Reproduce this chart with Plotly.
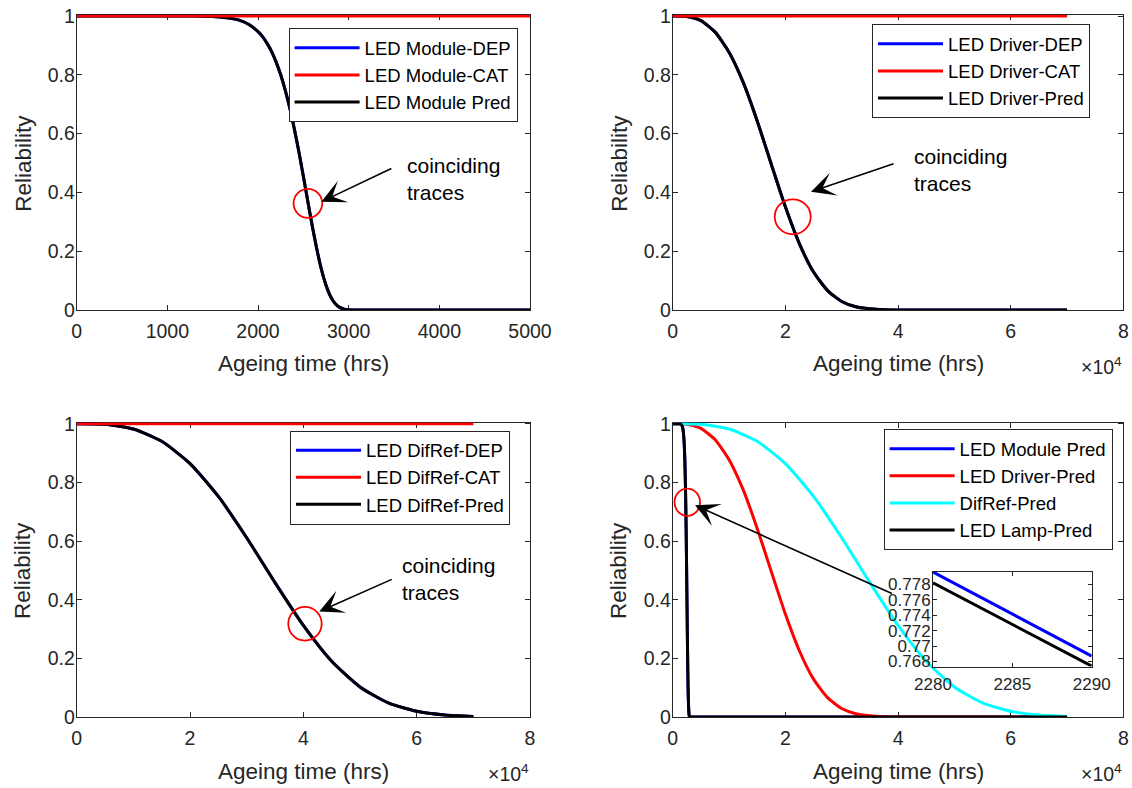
import plotly.graph_objects as go

# the page body margin is removed (see post_script), so the figure fills the window
OFF = 0
W, H = 1132 - OFF, 788 - OFF

# ---------------- data ----------------
# LED module (hours -> reliability)
module_hours = [0, 1000, 1200, 1400, 1500, 1600, 1700, 1800, 1900, 2000,
                2050, 2100, 2150, 2200, 2250, 2300, 2350, 2400, 2450, 2500,
                2550, 2600, 2650, 2700, 2750, 2800, 2850, 2900, 2950, 3000,
                3100, 3500, 4000, 5000]
module_pred = [1.0, 1.0, 0.9999, 0.9993, 0.998, 0.996, 0.992, 0.985, 0.971, 0.947,
               0.930, 0.907, 0.879, 0.843, 0.800, 0.748, 0.687, 0.617, 0.539, 0.455,
               0.368, 0.283, 0.205, 0.137, 0.084, 0.046, 0.022, 0.009, 0.003, 0.001,
               0.0, 0.0, 0.0, 0.0]
module_dep = list(module_pred)          # coinciding trace
module_cat_hours = [0, 5000]
module_cat = [1.0, 1.0]

# LED driver
driver_hours = [0, 2500, 5000, 7500, 10000, 12500, 15000, 17500, 20000, 22500,
                25000, 27500, 30000, 32500, 35000, 37500, 40000, 45000, 50000,
                60000, 70000]
driver_pred = [1.0, 0.998, 0.984, 0.946, 0.877, 0.775, 0.643, 0.496, 0.351, 0.225,
               0.129, 0.066, 0.029, 0.011, 0.004, 0.001, 0.0003, 0.0, 0.0,
               0.0, 0.0]
driver_dep = list(driver_pred)
long_cat_hours = [0, 70000]
driver_cat = [1.0, 1.0]

# LED diffuser / reflector
difref_hours = [0, 5000, 10000, 15000, 20000, 25000, 30000, 35000, 40000,
                45000, 50000, 55000, 60000, 65000, 70000]
difref_pred = [1.0, 0.998, 0.982, 0.940, 0.864, 0.752, 0.611, 0.458, 0.312,
               0.190, 0.1025, 0.048, 0.0195, 0.0067, 0.0019]
difref_dep = list(difref_pred)
difref_cat = [1.0, 1.0]

# LED lamp (system) prediction
lamp_hours = [0, 1000, 1200, 1400, 1500, 1600, 1700, 1800, 1900, 2000,
              2050, 2100, 2150, 2200, 2250, 2300, 2350, 2400, 2450, 2500,
              2550, 2600, 2650, 2700, 2750, 2800, 2850, 2900, 2950, 3000,
              3100, 3500, 4000, 5000, 70000]
lamp_pred = [1.0, 1.0, 0.9998, 0.999, 0.997, 0.995, 0.990, 0.983, 0.969, 0.945,
             0.928, 0.905, 0.877, 0.841, 0.798, 0.746, 0.685, 0.616, 0.538, 0.454,
             0.367, 0.282, 0.204, 0.136, 0.083, 0.045, 0.021, 0.009, 0.003, 0.001,
             0.0, 0.0, 0.0, 0.0, 0.0]
module_tail_hours = [70000]
module_tail = [0.0]

# inset (zoom of module vs lamp)
inset_hours = [2280, 2290]
inset_module = [0.7796, 0.7687]
inset_lamp = [0.7782, 0.7674]

# tick labels
x1_ticks = [0, 1000, 2000, 3000, 4000, 5000]
x1_text = ["0", "1000", "2000", "3000", "4000", "5000"]
x_long_ticks = [0, 20000, 40000, 60000, 80000]
x_long_text = ["0", "2", "4", "6", "8"]
y_ticks = [0, 0.2, 0.4, 0.6, 0.8, 1]
y_text = ["0", "0.2", "0.4", "0.6", "0.8", "1"]
inset_xticks = [2280, 2285, 2290]
inset_xtext = ["2280", "2285", "2290"]
inset_yticks = [0.768, 0.770, 0.772, 0.774, 0.776, 0.778]
inset_ytext = ["0.768", "0.77", "0.772", "0.774", "0.776", "0.778"]

# ---------------- styling ----------------
FONT = "Liberation Sans, Arial, Helvetica, sans-serif"
AX = "#262626"
BLUE, RED, CYAN, BLACK = "#0000FF", "#FF0000", "#00FFFF", "#000000"
LW = 3
YTOP = 1.004          # a hair above 1 so the y = 1 lines stay visible

def px(x):
    return (x - OFF) / W

def py(y):
    return 1 - (y - OFF) / H

# panel boxes in window pixels (left, right, top(y=1), bottom(y=0))
P1 = (76.7, 530.0, 16.0, 310.0)
P2 = (672.7, 1123.4, 16.0, 310.0)
P3 = (76.7, 530.0, 423.7, 717.0)
P4 = (672.7, 1123.4, 423.7, 717.0)
PI = (933.0, 1091.7, 572.0, 666.5)

def xdom(b):
    return [px(b[0]), px(b[1])]

def ydom(b, top=1.0):
    hgt = b[3] - b[2]
    return [py(b[3]), py(b[3] - hgt * top)]

def axis(domain, rng, tickvals, ticktext, anchor, size=19.5, ticklen=5, standoff=0):
    return dict(domain=domain, range=rng, anchor=anchor, tickmode="array",
                tickvals=tickvals, ticktext=ticktext, showline=True,
                linecolor=AX, linewidth=1, mirror="ticks", ticks="inside",
                ticklen=ticklen, tickwidth=1, tickcolor=AX, showgrid=False,
                zeroline=False, automargin=False, layer="below traces",
                ticklabelstandoff=standoff, ticklabeloverflow="allow",
                tickfont=dict(family=FONT, size=size, color=AX), fixedrange=True)

fig = go.Figure()

def line(x, y, color, name, xa, ya, legend, rank, show=True):
    fig.add_trace(go.Scatter(x=x, y=y, mode="lines", name=name,
                             line=dict(color=color, width=LW, shape="spline", smoothing=0.6),
                             xaxis=xa, yaxis=ya, legend=legend, legendrank=rank,
                             showlegend=show))

# panel 1
line(module_hours, module_dep, BLUE, "LED Module-DEP", "x", "y", "legend", 1)
line(module_hours, module_pred, BLACK, "LED Module Pred", "x", "y", "legend", 3)
line(module_cat_hours, module_cat, RED, "LED Module-CAT", "x", "y", "legend", 2)
# panel 2
line(driver_hours, driver_dep, BLUE, "LED Driver-DEP", "x2", "y2", "legend2", 1)
line(driver_hours, driver_pred, BLACK, "LED Driver-Pred", "x2", "y2", "legend2", 3)
line(long_cat_hours, driver_cat, RED, "LED Driver-CAT", "x2", "y2", "legend2", 2)
# panel 3
line(difref_hours, difref_dep, BLUE, "LED DifRef-DEP", "x3", "y3", "legend3", 1)
line(difref_hours, difref_pred, BLACK, "LED DifRef-Pred", "x3", "y3", "legend3", 3)
line(long_cat_hours, difref_cat, RED, "LED DifRef-CAT", "x3", "y3", "legend3", 2)
# panel 4
line(module_hours + module_tail_hours, module_pred + module_tail, BLUE,
     "LED Module Pred", "x4", "y4", "legend4", 1)
line(driver_hours, driver_pred, RED, "LED Driver-Pred", "x4", "y4", "legend4", 2)
line(difref_hours, difref_pred, CYAN, "DifRef-Pred", "x4", "y4", "legend4", 3)
line(lamp_hours, lamp_pred, BLACK, "LED Lamp-Pred", "x4", "y4", "legend4", 4)
# inset
fig.add_trace(go.Scatter(x=inset_hours, y=inset_module, mode="lines", showlegend=False,
                         line=dict(color=BLUE, width=LW), xaxis="x5", yaxis="y5"))
fig.add_trace(go.Scatter(x=inset_hours, y=inset_lamp, mode="lines", showlegend=False,
                         line=dict(color=BLACK, width=LW), xaxis="x5", yaxis="y5"))

XS, YS = 4, -3        # tick-label standoffs
layout = dict(
    template="none",
    width=W, height=H, margin=dict(l=0, r=0, t=0, b=0, autoexpand=False),
    paper_bgcolor="white", plot_bgcolor="white", showlegend=True,
    font=dict(family=FONT, color=AX),
    xaxis=axis(xdom(P1), [0, 5000], x1_ticks, x1_text, "y", standoff=XS),
    yaxis=axis(ydom(P1, YTOP), [0, YTOP], y_ticks, y_text, "x", standoff=YS),
    xaxis2=axis(xdom(P2), [0, 80000], x_long_ticks, x_long_text, "y2", standoff=XS),
    yaxis2=axis(ydom(P2, YTOP), [0, YTOP], y_ticks, y_text, "x2", standoff=YS),
    xaxis3=axis(xdom(P3), [0, 80000], x_long_ticks, x_long_text, "y3", standoff=XS),
    yaxis3=axis(ydom(P3, YTOP), [0, YTOP], y_ticks, y_text, "x3", standoff=YS),
    xaxis4=axis(xdom(P4), [0, 80000], x_long_ticks, x_long_text, "y4", standoff=XS),
    yaxis4=axis(ydom(P4, YTOP), [0, YTOP], y_ticks, y_text, "x4", standoff=YS),
    xaxis5=axis(xdom(PI), [2280, 2290], inset_xticks, inset_xtext, "y5", size=17, ticklen=4,
                standoff=2),
    yaxis5=axis(ydom(PI), [0.76735, 0.7796], inset_yticks, inset_ytext, "x5", size=17,
                ticklen=4, standoff=-2),
)

def legend_box(x, y):
    return dict(x=px(x), y=py(y), xanchor="left", yanchor="top", bgcolor="white",
                bordercolor=AX, borderwidth=1, itemwidth=65,
                font=dict(family=FONT, size=18.5, color="#000000"),
                traceorder="normal")

layout["legend"] = legend_box(288.6, 28.3)
layout["legend2"] = legend_box(872.0, 24.3)
layout["legend3"] = legend_box(290.0, 430.7)
layout["legend4"] = legend_box(883.6, 429.3)
fig.update_layout(**layout)

# axis titles and scale factors
ann = []
for b in (P1, P2, P3, P4):
    cx = (b[0] + b[1]) / 2
    ann.append(dict(text="Ageing time (hrs)", x=px(cx), y=py(b[3] + 54), xref="paper", yref="paper",
                    xanchor="center", yanchor="middle", showarrow=False,
                    font=dict(family=FONT, size=22.5, color=AX)))
    ann.append(dict(text="Reliability", x=px(b[0] - 54), y=py((b[2] + b[3]) / 2), xref="paper",
                    yref="paper", xanchor="center", yanchor="middle", textangle=-90,
                    showarrow=False, font=dict(family=FONT, size=22.5, color=AX)))
for b in (P2, P3, P4):
    ann.append(dict(text="×10<sup>4</sup>", x=px(b[1] + 1), y=py(b[3] + 56), xref="paper",
                    yref="paper", xanchor="right", yanchor="middle", showarrow=False,
                    font=dict(family=FONT, size=19.5, color=AX)))

# "coinciding traces" notes (data coordinates of each panel)
notes = [("x", "y", 3616, 0.445, 2699, 0.368, 3487, 0.484),
         ("x2", "y2", 42535, 0.475, 24552, 0.402, 39464, 0.499),
         ("x3", "y3", 57050, 0.469, 42810, 0.360, 55868, 0.4715)]
for xr, yr, tx, ty, hx, hy, tlx, tly in notes:
    ann.append(dict(text="coinciding<br>traces", x=tx, y=ty, xref=xr, yref=yr, xanchor="left",
                    yanchor="middle", align="left", showarrow=False,
                    font=dict(family=FONT, size=21, color="#000000")))
    ann.append(dict(text="", x=hx, y=hy, xref=xr, yref=yr, ax=tlx, ay=tly, axref=xr, ayref=yr,
                    showarrow=True, arrowhead=3, arrowsize=2.5, arrowwidth=1.6,
                    arrowcolor="#000000"))
# panel 4 arrow towards the inset
ann.append(dict(text="", x=3959, y=0.722, xref="x4", yref="y4", ax=39162, ay=0.419,
                axref="x4", ayref="y4", showarrow=True, arrowhead=3, arrowsize=2.5,
                arrowwidth=1.6, arrowcolor="#000000"))
fig.update_layout(annotations=ann)

# red circles marking coinciding traces
circles = [("x", "y", 2550, 0.363, 158, 0.0493),
           ("x2", "y2", 21303, 0.317, 3195, 0.0595),
           ("x3", "y3", 40286, 0.318, 2947, 0.0573),
           ("x4", "y4", 2592, 0.732, 2272, 0.0464)]
shapes = []
for xr, yr, cx, cy, rx, ry in circles:
    shapes.append(dict(type="circle", xref=xr, yref=yr, x0=cx - rx, x1=cx + rx,
                       y0=cy - ry, y1=cy + ry, line=dict(color=RED, width=1.8)))
fig.update_layout(shapes=shapes)

fig.write_html("out.html", config={"displayModeBar": False, "staticPlot": True},
               post_script="document.body.style.margin='0';document.body.style.overflow='hidden';")
